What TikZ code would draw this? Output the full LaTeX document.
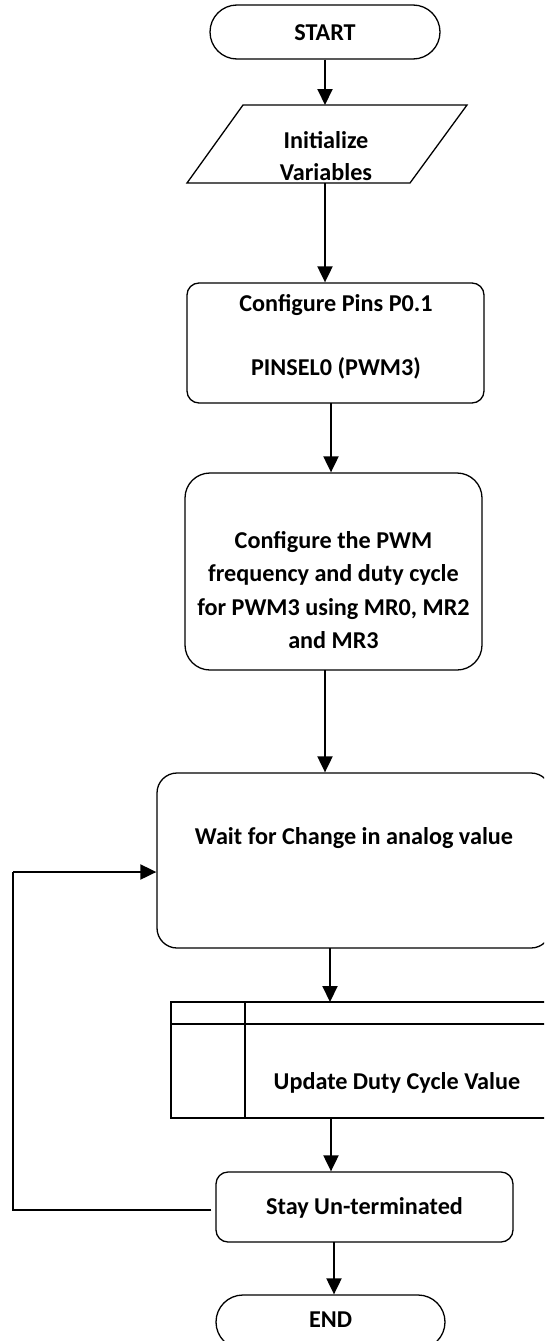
\documentclass[tikz,border=0pt]{standalone}
\usepackage{fontspec}
\setmainfont{Carlito}
\usetikzlibrary{arrows.meta}
\begin{document}
\begin{tikzpicture}[x=1pt,y=-1pt,
  txt/.style={font=\fontsize{24.2}{33.3}\selectfont\bfseries, align=center, inner sep=0pt},
  boxn/.style={draw, line width=1.3pt, inner sep=0pt},
  arr/.style={line width=2pt, -{Triangle[width=15pt,length=16pt]}},
  loopl/.style={line width=2pt}]
\useasboundingbox (0,0) rectangle (544,1341);
\clip (0,0) rectangle (544,1341);

% START
\node[boxn, rounded corners=27pt, minimum width=230pt, minimum height=54pt] (start) at (325,32) {};
\node[txt] (starttxt) at (325,33) {START};

% Initialize parallelogram
\draw[line width=1.3pt] (243,105) -- (467,105) -- (410,183) -- (187,183) -- cycle;
\coordinate (inittop) at (325,105);
\coordinate (initbot) at (325,183);
\node[txt] (init1) at (326,140) {Initialize};
\node[txt] (init2) at (326,172) {Variables};

% Configure Pins
\node[boxn, rounded corners=12pt, minimum width=297pt, minimum height=120pt] (pins) at (335.5,343) {};
\node[txt] (pins1) at (336,305) {Configure Pins P0.1};
\node[txt] (pins2) at (336,368) {PINSEL0 (PWM3)};

% Configure PWM
\node[boxn, rounded corners=25pt, minimum width=297pt, minimum height=197pt] (cfg) at (333.5,571.5) {};
\node[txt] (cfgtxt) at (333.5,590) {Configure the PWM\\frequency and duty cycle\\for PWM3 using MR0, MR2\\and MR3};

% Wait
\node[boxn, rounded corners=20pt, minimum width=394pt, minimum height=175pt] (wait) at (354,860.5) {};
\node[txt] (waittxt) at (354,838) {Wait for Change in analog value};

% Update table
\draw[line width=1.8pt] (171,1002) rectangle (560,1118);
\draw[line width=1.8pt] (171,1024) -- (560,1024);
\draw[line width=1.8pt] (245,1002) -- (245,1118);
\coordinate (updtop) at (330,1002);
\coordinate (updbot) at (331,1118);
\node[txt] (updtxt) at (397,1083) {Update Duty Cycle Value};

% Stay
\node[boxn, rounded corners=12pt, minimum width=297pt, minimum height=70pt] (stay) at (364.5,1207) {};
\node[txt] (staytxt) at (364.5,1208) {Stay Un-terminated};

% END
\node[boxn, rounded corners=27pt, minimum width=229pt, minimum height=54pt] (end) at (330.5,1322) {};
\node[txt] (endtxt) at (330.5,1320) {END};

% connectors
\draw[arr] (start.south -| inittop) -- (inittop);
\draw[arr] (initbot) -- (initbot |- pins.north);
\coordinate (pinsbot) at (331,403);
\draw[arr] (pinsbot) -- (pinsbot |- cfg.north);
\coordinate (cfgbot) at (325,670);
\draw[arr] (cfgbot) -- (cfgbot |- wait.north);
\coordinate (waitbot) at (330,948);
\draw[arr] (waitbot) -- (updtop);
\draw[arr] (updbot) -- (updbot |- stay.north);
\coordinate (staybot) at (334,1242);
\draw[arr] (staybot) -- (staybot |- end.north);

% loop back
\coordinate (lpa) at (13,1210);
\coordinate (lpb) at (13,872);
\draw[loopl] (stay.west |- lpa) ++(-4,0) -- (lpa) -- (lpb);
\draw[arr] (lpb) -- (lpb -| wait.west);
\end{tikzpicture}
\end{document}
